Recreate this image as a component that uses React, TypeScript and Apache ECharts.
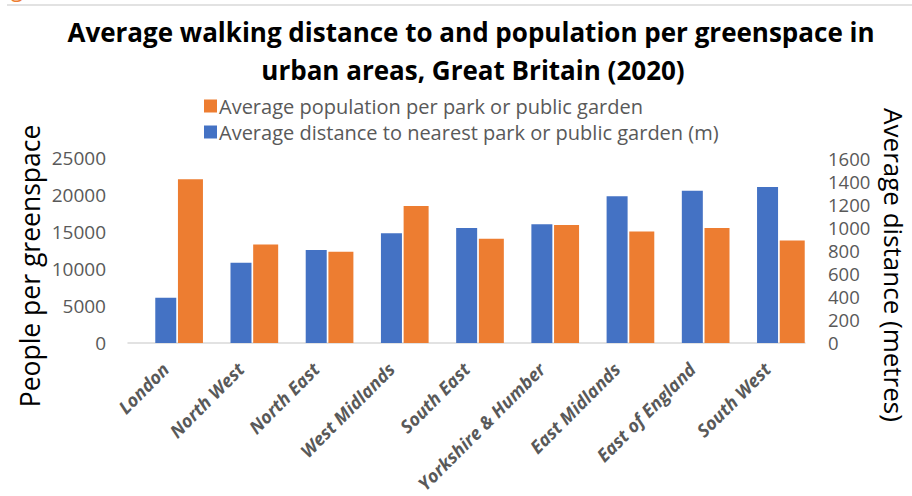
import React, { useEffect, useRef } from "react";
import * as echarts from "echarts";

const categories = [
  "London",
  "North West",
  "North East",
  "West Midlands",
  "South East",
  "Yorkshire & Humber",
  "East Midlands",
  "East of England",
  "South West",
];
const distanceMetres = [390, 694, 803, 949, 995, 1026, 1270, 1316, 1348];
const populationPerPark = [22140, 13300, 12320, 18500, 14070, 15950, 15050, 15550, 13840];
const leftTicks = { min: 0, max: 25000, interval: 5000 };
const rightTicks = { min: 0, max: 1600, interval: 200 };

const FONT = "'Open Sans', Lato, sans-serif";
const GREY = "#595959";

export default function App() {
  const ref = useRef<HTMLDivElement>(null);
  useEffect(() => {
    document.body.style.margin = "0";
    const chart = echarts.init(ref.current!, undefined, { renderer: "svg" });
    chart.setOption({
      animation: false,
      backgroundColor: "#ffffff",
      textStyle: { fontFamily: FONT },
      grid: { left: 128, right: 107, top: 158, bottom: 152, containLabel: false },
      legend: {
        orient: "vertical",
        left: 199,
        top: 91,
        itemWidth: 13,
        itemHeight: 13,
        itemGap: 6,
        icon: "rect",
        data: ["Average population per park or public garden", "Average distance to nearest park or public garden (m)"],
        textStyle: { fontFamily: FONT, fontSize: 20, lineHeight: 19, color: GREY, padding: [0, 0, 0, -3] },
      },
      xAxis: {
        type: "category",
        data: categories,
        axisLine: { show: true, lineStyle: { color: "#d9d9d9", width: 1.5 } },
        axisTick: { show: false },
        axisLabel: {
          rotate: 45,
          margin: 23,
          interval: 0,
          fontFamily: FONT,
          fontSize: 18,
          lineHeight: 20,
          fontWeight: "bold",
          fontStyle: "italic",
          color: GREY,
        },
      },
      yAxis: [
        {
          type: "value",
          min: leftTicks.min,
          max: leftTicks.max,
          interval: leftTicks.interval,
          axisLine: { show: false },
          axisTick: { show: false },
          splitLine: { show: false },
          axisLabel: { margin: 22, fontFamily: FONT, fontSize: 19, lineHeight: 19, color: GREY, formatter: (v: number) => String(v) },
        },
        {
          type: "value",
          min: rightTicks.min,
          max: rightTicks.max,
          interval: rightTicks.interval,
          position: "right",
          axisLine: { show: false },
          axisTick: { show: false },
          splitLine: { show: false },
          axisLabel: { margin: 23, fontFamily: FONT, fontSize: 18.5, lineHeight: 18, color: GREY, formatter: (v: number) => String(v) },
        },
      ],
      series: [
        {
          name: "spacer",
          type: "bar",
          yAxisIndex: 0,
          barWidth: 25,
          barGap: "8%",
          silent: true,
          data: categories.map(() => null),
        },
        {
          name: "Average distance to nearest park or public garden (m)",
          type: "bar",
          yAxisIndex: 1,
          barWidth: 21,
          barGap: "8%",
          itemStyle: { color: "#4472C4" },
          data: distanceMetres,
        },
        {
          name: "Average population per park or public garden",
          type: "bar",
          yAxisIndex: 0,
          barWidth: 25,
          barGap: "8%",
          itemStyle: { color: "#ED7D31" },
          data: populationPerPark,
        },
      ],
      graphic: [
        {
          type: "line",
          shape: { x1: 7, y1: 5, x2: 912, y2: 5 },
          style: { stroke: "#d9d9d9", lineWidth: 1.5 },
        },
        {
          type: "text",
          x: -6,
          y: -1,
          style: {
            text: "Figure 2 (ONS 2020)",
            fill: "#ED7D31",
            font: `22px ${FONT}`,
            textAlign: "left",
            textVerticalAlign: "bottom",
          },
        },
        {
          type: "text",
          x: 471,
          y: 32,
          style: {
            text: "Average walking distance to and population per greenspace in",
            fill: "#000",
            font: `bold 26px ${FONT}`,
            textAlign: "center",
            textVerticalAlign: "middle",
          },
        },
        {
          type: "text",
          x: 473,
          y: 70,
          style: {
            text: "urban areas, Great Britain (2020)",
            fill: "#000",
            font: `bold 26px ${FONT}`,
            textAlign: "center",
            textVerticalAlign: "middle",
          },
        },
        {
          type: "text",
          x: 30,
          y: 266,
          rotation: Math.PI / 2,
          style: {
            text: "People per greenspace",
            fill: "#000",
            font: `26.5px ${FONT}`,
            lineHeight: 28,
            textAlign: "center",
            textVerticalAlign: "middle",
          },
        },
        {
          type: "text",
          x: 894,
          y: 265,
          rotation: -Math.PI / 2,
          style: {
            text: "Average distance (metres)",
            fill: "#000",
            font: `26px ${FONT}`,
            lineHeight: 26,
            textAlign: "center",
            textVerticalAlign: "middle",
          },
        },
      ],
    });
    return () => chart.dispose();
  }, []);
  return <div ref={ref} style={{ position: "fixed", left: 0, top: 0, width: 912, height: 496 }} />;
}
